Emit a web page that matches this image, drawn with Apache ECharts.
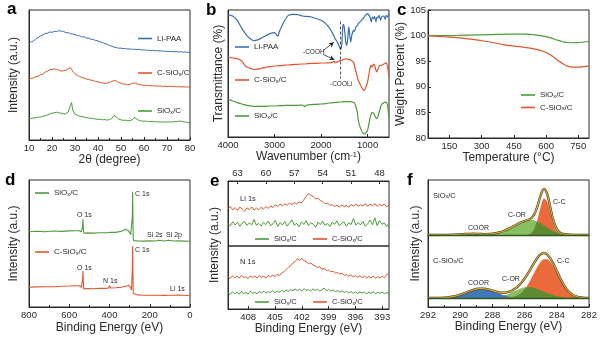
<!DOCTYPE html>
<html>
<head>
<meta charset="utf-8">
<script src="https://cdn.jsdelivr.net/npm/echarts@6/dist/echarts.min.js"></script>
<style>
  html, body { margin: 0; padding: 0; background: #fff; }
  #chart { width: 600px; height: 339px; }
</style>
</head>
<body>
<div id="chart"></div>
<script>
// ---------- (a) XRD patterns ----------
const xrdAngle = [10,11,12,13,14,15,16,17,18,19,20,21,22,23,24,25,26,27,28,28.5,29,30,31,32,33,34,35,36,37,38,39,40,41,42,43,44,45,46,47,47.5,48,49,50,51,52,53,54,55,56,56.5,57,58,59,60,61,62,63,64,65,66,67,68,69,70,71,72,73,74,75,76,77,78,79,80];
const xrdLiPAA = [96.5,98.4,99.0,101.3,102.4,104.3,105.0,106.6,106.8,108.0,107.7,108.6,108.4,109.3,108.8,108.6,107.4,107.3,106.4,106.6,105.8,105.6,104.4,104.2,103.0,103.3,102.0,101.9,100.7,100.5,99.4,99.2,98.0,97.5,96.4,95.9,94.5,93.9,92.8,92.7,92.4,91.8,91.9,91.3,91.5,90.9,91.1,90.6,90.8,90.5,90.4,90.6,90.0,90.2,89.7,89.9,89.4,89.6,89.2,89.4,88.9,89.1,88.6,88.8,88.4,88.6,88.2,88.4,88.0,88.3,87.8,88.0,87.6,87.8];
const xrdCSiOx = [61.0,61.6,62.1,63.2,63.8,65.3,65.8,67.9,68.7,70.3,70.5,71.2,70.4,69.9,68.8,69.3,69.5,71.2,72.4,73.0,69.0,66.2,64.5,63.5,62.4,61.9,60.8,60.5,59.8,59.5,58.5,58.2,57.5,57.2,56.5,56.9,57.5,58.4,59.6,59.8,58.8,57.5,56.8,55.8,55.9,55.2,55.8,56.6,57.1,56.9,56.0,55.4,55.1,54.6,54.8,54.3,54.5,54.0,54.2,53.8,54.0,53.6,53.9,53.5,53.7,53.3,53.6,53.2,53.4,53.0,53.3,52.9,53.2,52.9];
const xrdSiOx = [21.8,21.5,22.1,22.2,22.8,22.9,23.8,24.2,25.1,25.9,26.8,27.2,27.8,27.1,26.8,26.2,26.1,28.0,34.5,37.5,29.8,25.6,24.8,23.9,23.4,22.9,22.4,21.9,21.8,21.2,21.1,20.6,20.8,20.2,20.4,19.9,20.4,21.4,24.6,25.6,23.0,21.0,20.1,19.6,19.8,19.2,19.5,20.4,22.8,22.5,20.6,19.4,19.0,18.7,18.9,18.4,18.6,18.2,18.4,18.0,18.2,17.9,18.1,17.9,18.2,18.0,18.3,18.5,18.7,18.9,18.4,17.8,17.6,17.4];

// ---------- (b) FTIR spectra ----------
const irWave = [4000,3900,3800,3700,3650,3600,3500,3450,3400,3300,3200,3100,3000,2950,2920,2900,2800,2750,2700,2600,2500,2400,2350,2300,2200,2100,2000,1900,1800,1750,1720,1700,1650,1620,1590,1570,1550,1540,1530,1510,1490,1470,1450,1430,1410,1400,1380,1360,1340,1300,1280,1250,1220,1200,1150,1100,1070,1050,1000,950,920,900,870,850,820,800,780,750,720,700,650,620,600,570,540];
const irLiPAA = [122.4,121.0,116.7,108.4,105.0,101.7,97.4,96.4,96.7,98.4,101.0,103.4,104.4,101.7,101.0,105.0,115.0,119.0,121.7,122.7,122.4,121.0,120.7,120.7,120.0,118.4,116.7,113.4,107.7,103.4,100.7,98.4,95.0,91.7,88.4,87.7,95.0,105.0,111.7,112.4,105.0,95.0,91.7,96.7,108.4,110.0,100.0,95.0,101.7,106.7,105.7,110.0,111.7,113.4,115.7,118.4,120.0,121.7,123.4,120.0,115.0,120.0,118.4,120.7,115.0,120.0,119.0,121.7,116.7,120.0,121.0,117.7,121.7,120.0,123.4];
const irCSiOx = [80.0,79.0,78.4,75.7,72.4,70.0,68.4,67.7,67.7,68.4,69.7,70.4,71.0,71.0,71.4,71.4,71.7,72.0,72.0,72.4,72.7,73.0,73.0,73.4,73.7,73.7,74.0,74.0,74.4,74.7,76.0,74.4,75.0,75.4,77.0,76.4,76.7,77.0,77.4,77.7,78.0,78.0,78.4,77.7,77.4,77.7,77.4,77.0,76.4,74.4,71.0,65.0,60.0,56.7,51.7,47.7,46.7,48.4,55.0,68.4,71.7,70.0,73.0,71.7,66.7,65.0,67.4,71.0,71.7,71.7,73.0,73.7,74.4,70.0,60.0];
const irSiOx = [37.7,36.0,34.4,33.0,32.4,31.7,31.0,30.7,30.7,30.7,30.7,31.0,31.0,31.0,31.4,31.4,31.4,31.7,31.7,31.7,31.7,32.0,30.4,32.0,32.4,32.7,33.0,33.4,34.0,34.4,34.4,34.7,34.7,35.0,35.0,35.0,35.0,35.0,35.4,35.4,35.4,35.4,35.4,35.4,35.4,35.4,35.4,35.4,35.0,34.7,33.7,30.0,24.4,16.7,8.4,4.1,3.0,3.4,6.7,18.4,23.4,24.4,23.7,21.7,19.0,18.4,20.0,25.0,30.0,32.4,34.4,34.7,35.0,31.7,18.4];
const irTicks = [4000, 3000, 2000, 1000];

// ---------- (c) TGA curves ----------
const tgaTemp = [50,100,150,200,250,300,350,400,450,500,550,600,625,650,675,700,725,750,775,800];
const tgaSiOx = [100,100,100,100.05,100.1,100.15,100.2,100.25,100.3,100.3,100.15,99.8,99.5,99.15,98.85,98.65,98.6,98.65,98.75,98.85];
const tgaCSiOx = [100,99.85,99.7,99.55,99.3,99.0,98.65,98.25,97.95,97.7,97.35,96.7,96.1,95.3,94.6,94.05,93.85,93.85,93.95,94.1];
const tgaTicks = [150, 300, 450, 600, 750];

// ---------- (d) XPS survey ----------
const surveyEnergy = [800,760,720,680,640,600,570,550,545,540,537,534,532,530,528,525,510,480,450,420,405,400,395,370,340,320,305,300,295,291,288,286.5,285,283.5,282,280,260,230,200,170,155,152,149,130,105,102,99,80,58,55,52,30,0];
const surveySiOx = [75.3,75.8,75.2,76.0,75.6,76.1,76.3,76.2,76.7,75.0,74.3,80.3,87.7,78.7,73.7,73.8,74.1,73.9,74.3,74.2,74.4,74.3,74.7,74.6,75.7,77.7,76.3,74.3,72.3,71.7,71.7,90.0,115.3,87.0,68.7,66.3,66.1,65.9,66.1,66.0,66.7,67.3,66.3,66.0,66.7,67.3,66.3,66.0,66.1,65.9,66.0,65.9,65.7];
const surveyCSiOx = [19.7,20.1,20.3,20.2,20.8,21.0,21.3,21.2,21.7,19.7,18.7,27.0,36.0,25.3,18.0,18.1,18.4,18.2,18.7,18.6,19.0,21.3,19.0,19.3,19.7,20.7,21.7,21.3,19.7,17.0,16.3,37.0,61.0,33.7,13.7,12.0,12.1,11.8,11.7,11.8,11.7,11.9,11.7,11.6,11.8,11.7,11.6,11.7,12.0,13.0,12.0,11.7,11.3];

// ---------- (e) Li 1s and N 1s high-resolution spectra ----------
const li1sEnergy = [64,63.75,63.5,63.25,63,62.75,62.5,62.25,62,61.75,61.5,61.25,61,60.75,60.5,60.25,60,59.75,59.5,59.25,59,58.75,58.5,58.25,58,57.75,57.5,57.25,57,56.75,56.5,56.25,56,55.75,55.5,55.25,55,54.75,54.5,54.25,54,53.75,53.5,53.25,53,52.75,52.5,52.25,52,51.75,51.5,51.25,51,50.75,50.5,50.25,50,49.75,49.5,49.25,49,48.75,48.5,48.25,48,47.75,47.5,47.25,47];
const li1sCSiOx = [37.2,39.5,36.1,38.4,35.6,38.9,37.0,34.8,38.2,36.5,39.1,35.9,37.8,36.3,38.6,37.1,39.4,37.6,40.2,38.5,41.0,39.6,41.8,40.3,42.1,40.8,42.9,41.5,43.4,42.0,44.1,43.2,46.0,49.5,52.6,50.8,49.4,47.1,48.0,45.3,44.6,42.2,43.0,40.6,41.3,39.5,40.9,38.8,41.2,39.4,40.7,38.6,41.5,39.8,42.0,39.9,41.3,40.1,42.4,39.6,41.8,40.3,42.2,39.7,41.6,40.2,41.9,39.3,40.8];
const li1sSiOx = [22.4,20.1,24.3,21.0,23.8,19.6,22.9,24.6,20.5,23.1,21.2,26.5,20.8,22.6,19.9,23.7,21.4,24.9,20.3,22.2,25.6,19.4,23.3,21.1,24.4,20.0,23.0,26.1,20.7,22.8,19.2,24.1,21.6,25.3,20.4,23.4,21.9,18.8,23.9,21.3,24.7,20.6,22.5,19.5,23.6,21.8,25.2,20.2,22.7,24.2,19.7,23.2,21.5,27.5,20.9,23.5,21.0,24.5,19.8,22.3,26.0,21.2,28.2,20.4,25.4,21.7,23.1,19.6,22.6];
const li1sTicks = [63, 60, 57, 54, 51, 48];

const n1sEnergy = [410.25,410,409.75,409.5,409.25,409,408.75,408.5,408.25,408,407.75,407.5,407.25,407,406.75,406.5,406.25,406,405.75,405.5,405.25,405,404.75,404.5,404.25,404,403.75,403.5,403.25,403,402.75,402.5,402.25,402,401.75,401.5,401.25,401,400.75,400.5,400.25,400,399.75,399.5,399.25,399,398.75,398.5,398.25,398,397.75,397.5,397.25,397,396.75,396.5,396.25,396,395.75,395.5,395.25,395,394.75,394.5,394.25,394,393.75,393.5,393.25,393,392.75,392.5,392.25];
const n1sCSiOx = [32.4,30.6,33.1,31.2,32.9,30.8,33.5,31.6,32.2,30.4,33.0,31.5,32.8,30.9,33.4,31.8,32.6,31.0,33.6,32.1,33.9,32.5,34.6,33.4,36.0,37.2,39.5,41.8,43.2,46.1,47.4,50.3,48.8,50.6,48.1,47.6,45.3,46.2,44.0,43.1,41.6,42.4,39.8,40.5,38.6,39.1,37.2,37.9,35.8,36.6,34.9,35.7,33.6,34.5,32.8,34.1,32.3,33.5,31.7,33.2,31.4,32.8,30.9,32.6,31.2,33.0,30.5,32.4,31.0,32.9,31.3,34.5,35.0];
const n1sSiOx = [16.0,14.6,17.2,15.3,16.9,14.8,17.5,15.6,16.4,15.0,17.8,15.9,16.6,15.2,17.6,16.1,18.0,15.7,17.3,16.5,18.4,16.2,17.9,16.8,18.7,17.0,19.1,17.6,19.5,18.2,20.0,18.5,19.7,18.1,20.3,18.7,19.4,17.9,20.1,18.4,19.8,18.0,19.3,21.0,18.2,19.6,17.8,19.0,17.3,18.5,16.9,18.1,16.5,17.6,16.0,17.4,15.7,17.1,15.5,17.0,15.9,16.8,15.2,16.9,15.6,17.2,15.3,16.6,15.8,16.9,15.4,16.3,15.9];
const n1sTicks = [408, 405, 402, 399, 396, 393];

// ---------- (f) C 1s peak fitting ----------
const c1sEnergy = [292,291.8,291.6,291.4,291.2,291,290.8,290.6,290.4,290.2,290,289.8,289.6,289.4,289.2,289,288.8,288.6,288.4,288.2,288,287.8,287.6,287.4,287.2,287,286.8,286.6,286.4,286.2,286,285.8,285.6,285.4,285.2,285,284.8,284.6,284.4,284.2,284,283.8,283.6,283.4,283.2,283,282.8,282.6,282.4,282.2,282];
const c1sSiOxCOOR = [0,0,0,0.01,0.03,0.07,0.12,0.22,0.35,0.52,0.73,0.93,1.09,1.19,1.19,1.09,0.93,0.73,0.52,0.35,0.22,0.12,0.07,0.03,0.01,0,0,0,0,0,0,0,0,0,0,0,0,0,0,0,0,0,0,0,0,0,0,0,0,0,0];
const c1sSiOxCOR = [0,0,0,0,0,0,0,0,0,0,0,0,0.01,0.02,0.04,0.08,0.14,0.25,0.43,0.70,1.1,1.67,2.45,3.45,4.7,6.15,7.8,9.4,11.2,12.7,13.95,14.73,15.0,14.58,13.4,11.7,9.6,7.5,5.5,3.8,2.55,1.6,0.94,0.52,0.28,0.14,0.07,0.03,0,0,0];
const c1sSiOxCC = [0,0,0,0,0,0,0,0,0,0,0,0,0,0,0,0,0,0,0,0,0,0,0,0,0,0,0,0,0,0,0.04,0.3,1.6,5.9,15.4,28.2,36.6,33.6,21.8,10.0,3.3,0.75,0.1,0,0,0,0,0,0,0,0];
const c1sCSiOxCOOR = [0,0.01,0.05,0.1,0.2,0.36,0.63,1.0,1.6,2.4,3.35,4.5,5.8,7.0,8.1,9.0,9.44,9.44,9.0,8.1,7.0,5.8,4.5,3.35,2.4,1.6,1.0,0.63,0.36,0.2,0.1,0.05,0.01,0,0,0,0,0,0,0,0,0,0,0,0,0,0,0,0,0,0];
const c1sCSiOxCOR = [0,0,0,0,0,0,0,0,0,0,0,0,0,0,0,0,0,0,0.1,0.2,0.4,0.7,1.2,1.9,2.8,4.1,5.5,7.1,8.6,9.8,10.7,11.0,10.8,10.1,9.0,7.7,6.3,5.0,3.7,2.7,1.8,1.2,0.75,0.45,0.26,0.14,0.05,0,0,0,0];
const c1sCSiOxCC = [0,0,0,0,0,0,0,0,0,0,0,0,0,0,0,0,0,0,0,0,0,0,0,0,0.15,0.35,0.8,1.6,3.0,5.3,8.7,13.3,19.0,25.2,31.3,36.0,38.7,38.7,36.0,31.3,25.2,19.0,13.3,8.7,5.3,3.0,1.6,0.8,0.35,0.15,0.05];

// ---------- styling ----------
const FONT = '"Liberation Sans", Arial, sans-serif';
const INK = '#2a2a2a';
const BLUE = '#3a6fb8';
const ORANGE = '#e0572c';
const GREEN = '#4d9c3b';
const FILL_CC = '#ea6a3c';
const FILL_COR = '#86c062';
const FILL_OVERLAP = '#5d8a33';
const FILL_COOR = '#4278b9';
const ENVELOPE = '#d8ab2c';
const SUB = { s: { fontSize: 5.5, fontFamily: FONT, color: INK, verticalAlign: 'bottom', lineHeight: 6 } };

function pairs(xs, ys) { return xs.map((x, i) => [x, ys[i]]); }
function sumOf(a, b, c) { return a.map((v, i) => v + b[i] + c[i]); }
function minOf(a, b) { return a.map((v, i) => Math.min(v, b[i])); }
function subX(text) { return text.replace('SiOx', 'SiO{s|x}'); }
function plain(v) { return String(v); }

function grid(left, top, width, height, framed) {
  return { left, top, width, height, show: framed, borderColor: INK, borderWidth: 1,
           backgroundColor: 'transparent', containLabel: false, outerBoundsMode: 'none' };
}

function xAxis(gi, o) {
  const ax = {
    type: 'value', gridIndex: gi, min: o.min, max: o.max, inverse: !!o.inverse,
    position: o.position || 'bottom',
    axisLine: { show: true, onZero: false, lineStyle: { color: INK, width: 1 } },
    axisTick: { show: true, inside: true, length: 3, lineStyle: { color: INK } },
    minorTick: { show: !!o.minor, splitNumber: 2, length: 2, lineStyle: { color: INK } },
    axisLabel: { show: true, margin: 3, fontSize: 9.5, fontFamily: FONT, color: INK,
                 showMinLabel: true, showMaxLabel: true, formatter: plain },
    splitLine: { show: false },
    name: o.name || '', nameLocation: 'middle', nameGap: o.nameGap || 12,
    nameTextStyle: { fontSize: 12, fontFamily: FONT, color: INK,
                     rich: { sup: { fontSize: 7.5, fontFamily: FONT, color: INK, verticalAlign: 'top', lineHeight: 8 } } },
    silent: true
  };
  if (o.interval) ax.interval = o.interval;
  if (o.custom) {
    ax.axisLabel.customValues = o.custom;
    ax.axisTick.customValues = o.custom;
  }
  return ax;
}

function yAxis(gi, o) {
  return {
    type: 'value', gridIndex: gi, min: o.min, max: o.max, interval: o.interval,
    axisLine: { show: true, onZero: false, lineStyle: { color: INK, width: 1 } },
    axisTick: { show: !!o.labels, inside: true, length: 3, lineStyle: { color: INK } },
    axisLabel: { show: !!o.labels, margin: 2, fontSize: 9.5, fontFamily: FONT, color: INK, formatter: plain },
    splitLine: { show: false },
    name: o.name || '', nameLocation: 'middle', nameGap: o.nameGap || 8,
    nameTextStyle: { fontSize: 12, fontFamily: FONT, color: INK },
    silent: true
  };
}

function hiddenAxes(gi, ymax) {
  return {
    x: { type: 'value', gridIndex: gi, min: 282, max: 292, inverse: true, z: 10,
         axisLine: { show: true, onZero: false, lineStyle: { color: '#2e5a1f', width: 1.3 } },
         axisTick: { show: false }, axisLabel: { show: false }, splitLine: { show: false } },
    y: { type: 'value', gridIndex: gi, min: 0, max: ymax, show: false, splitLine: { show: false } }
  };
}

function line(name, gi, xs, ys, color, width, extra) {
  return Object.assign({
    type: 'line', name, xAxisIndex: gi, yAxisIndex: gi, data: pairs(xs, ys),
    showSymbol: false, symbol: 'none', silent: true, animation: false,
    lineStyle: { color, width }, itemStyle: { color }, z: 3
  }, extra || {});
}

function band(name, gi, ys, fill, z) {
  return {
    type: 'line', name, xAxisIndex: gi, yAxisIndex: gi, data: pairs(c1sEnergy, ys),
    showSymbol: false, symbol: 'none', smooth: 0.3, silent: true, animation: false,
    lineStyle: { width: 0 }, itemStyle: { color: fill },
    areaStyle: { color: fill, opacity: 1, origin: 'start' }, z
  };
}

function legendItem(name, left, top, size) {
  return {
    data: [name], left, top, padding: 0, itemGap: 0, icon: 'rect',
    itemWidth: 14, itemHeight: 1.6, selectedMode: false,
    formatter: subX,
    textStyle: { fontSize: size, fontFamily: FONT, color: INK,
                 rich: { s: { fontSize: size * 0.7, fontFamily: FONT, color: INK, verticalAlign: 'bottom', lineHeight: 6 } } }
  };
}

function text(str, x, y, size, extra) {
  return { type: 'text', x, y, silent: true, z: 20,
    style: Object.assign({ text: subX(str), fontSize: size, fontFamily: FONT, fill: INK,
                           align: 'left', verticalAlign: 'middle', rich: SUB }, extra || {}) };
}

function letter(ch, x, y) {
  return { type: 'text', x, y, silent: true, z: 20,
    style: { text: ch, fontSize: 17, fontWeight: 'bold', fontFamily: FONT, fill: '#000',
             align: 'left', verticalAlign: 'bottom' } };
}

const fTop = hiddenAxes(7, 55);
const fBot = hiddenAxes(8, 118);

const option = {
  animation: false,
  backgroundColor: '#fff',
  grid: [
    grid(29, 10, 161, 130, true),    // 0 a
    grid(228, 10, 161, 127, true),   // 1 b
    grid(428, 10, 161, 128, true),   // 2 c
    grid(29, 180, 161, 127, true),   // 3 d
    grid(228, 181, 161, 65, true),   // 4 e (Li 1s)
    grid(228, 246, 161, 63, true),   // 5 e (N 1s)
    grid(428, 180, 161, 127, true),  // 6 f frame
    grid(428, 180, 161, 55, false),  // 7 f SiOx/C fit
    grid(428, 180, 161, 118, false)  // 8 f C-SiOx/C fit
  ],
  xAxis: [
    xAxis(0, { min: 10, max: 80, interval: 10, minor: true, name: '2θ (degree)', nameGap: 11 }),
    xAxis(1, { min: 540, max: 4000, inverse: true, custom: irTicks, name: 'Wavenumber (cm{sup|-1})', nameGap: 14 }),
    xAxis(2, { min: 50, max: 800, custom: tgaTicks, name: 'Temperature (°C)', nameGap: 12 }),
    xAxis(3, { min: 0, max: 800, interval: 200, inverse: true, minor: true, name: 'Binding Energy (eV)', nameGap: 15 }),
    xAxis(4, { min: 47, max: 64, inverse: true, custom: li1sTicks, position: 'top' }),
    xAxis(5, { min: 392.25, max: 410.25, inverse: true, custom: n1sTicks, name: 'Binding Energy (eV)', nameGap: 12 }),
    xAxis(6, { min: 282, max: 292, interval: 2, inverse: true, minor: true, name: 'Binding Energy (eV)', nameGap: 13 }),
    fTop.x, fBot.x
  ],
  yAxis: [
    yAxis(0, { min: 0, max: 130, name: 'Intensity (a.u.)', nameGap: 9 }),
    yAxis(1, { min: 0, max: 127, name: 'Transmittance (%)', nameGap: 3 }),
    yAxis(2, { min: 80, max: 105, interval: 5, labels: true, name: 'Weight Percent (%)', nameGap: 17 }),
    yAxis(3, { min: 0, max: 127, name: 'Intensity (a.u.)', nameGap: 9 }),
    yAxis(4, { min: 0, max: 65 }),
    yAxis(5, { min: 0, max: 63 }),
    yAxis(6, { min: 0, max: 127, name: 'Intensity (a.u.)', nameGap: 6 }),
    fTop.y, fBot.y
  ],
  legend: [
    legendItem('Li-PAA', 138, 34.5, 8),
    legendItem('C-SiOx/C', 138, 69, 8),
    legendItem('SiOx/C', 138, 107, 8),
    legendItem('Li-PAA', 235, 43, 8),
    legendItem('C-SiOx/C', 235, 76, 8),
    legendItem('SiOx/C', 235, 112, 8),
    legendItem('SiOx/C', 521, 91, 8),
    legendItem('C-SiOx/C', 521, 103.5, 8),
    legendItem('SiOx/C', 35, 189, 8),
    legendItem('C-SiOx/C', 35, 248, 8),
    legendItem('SiOx/C', 255, 235, 7.5),
    legendItem('C-SiOx/C', 313, 235, 7.5),
    legendItem('SiOx/C', 255, 298, 7.5),
    legendItem('C-SiOx/C', 313, 298, 7.5)
  ],
  series: [
    // (a)
    line('Li-PAA', 0, xrdAngle, xrdLiPAA, BLUE, 1),
    line('C-SiOx/C', 0, xrdAngle, xrdCSiOx, ORANGE, 1),
    line('SiOx/C', 0, xrdAngle, xrdSiOx, GREEN, 1),
    // (b)
    line('Li-PAA', 1, irWave, irLiPAA, BLUE, 1.2, {
      smooth: 0.12,
      markLine: {
        silent: true, animation: false, label: { show: false }, symbolSize: [5, 6],
        data: [
          [{ coord: [1590, 115.5], symbol: 'none', lineStyle: { type: [3, 2], color: INK, width: 0.8 } },
           { coord: [1590, 58.5], symbol: 'none' }],
          [{ coord: [1958, 86.3], symbol: 'none', lineStyle: { type: 'solid', color: INK, width: 0.8 } },
           { coord: [1725, 94.8], symbol: 'arrow', symbolSize: [4, 5] }],
          [{ coord: [1958, 82.6], symbol: 'none', lineStyle: { type: 'solid', color: INK, width: 0.8 } },
           { coord: [1712, 77.2], symbol: 'arrow', symbolSize: [4, 5] }]
        ]
      }
    }),
    line('C-SiOx/C', 1, irWave, irCSiOx, ORANGE, 1.2, { smooth: 0.15 }),
    line('SiOx/C', 1, irWave, irSiOx, GREEN, 1.2, { smooth: 0.15 }),
    // (c)
    line('SiOx/C', 2, tgaTemp, tgaSiOx, GREEN, 1.2, { smooth: true }),
    line('C-SiOx/C', 2, tgaTemp, tgaCSiOx, ORANGE, 1.2, { smooth: true }),
    // (d)
    line('SiOx/C', 3, surveyEnergy, surveySiOx, GREEN, 1.1),
    line('C-SiOx/C', 3, surveyEnergy, surveyCSiOx, ORANGE, 1.1),
    // (e)
    line('C-SiOx/C', 4, li1sEnergy, li1sCSiOx, ORANGE, 1),
    line('SiOx/C', 4, li1sEnergy, li1sSiOx, GREEN, 1),
    line('C-SiOx/C', 5, n1sEnergy, n1sCSiOx, ORANGE, 1),
    line('SiOx/C', 5, n1sEnergy, n1sSiOx, GREEN, 1),
    // (f) SiOx/C fit
    band('C-OR', 7, c1sSiOxCOR, FILL_COR, 2),
    band('COOR', 7, c1sSiOxCOOR, FILL_COOR, 3),
    band('C-C', 7, c1sSiOxCC, FILL_CC, 4),
    band('C-OR under C-C', 7, minOf(c1sSiOxCOR, c1sSiOxCC), FILL_OVERLAP, 5),
    line('raw', 7, c1sEnergy, sumOf(c1sSiOxCC, c1sSiOxCOR, c1sSiOxCOOR), '#333', 2.3, { smooth: 0.3, z: 6 }),
    line('envelope', 7, c1sEnergy, sumOf(c1sSiOxCC, c1sSiOxCOR, c1sSiOxCOOR), ENVELOPE, 1.3, { smooth: 0.3, z: 7 }),
    // (f) C-SiOx/C fit
    band('C-OR', 8, c1sCSiOxCOR, FILL_COR, 2),
    band('COOR', 8, c1sCSiOxCOOR, FILL_COOR, 3),
    band('C-C', 8, c1sCSiOxCC, FILL_CC, 4),
    band('C-OR under C-C', 8, minOf(c1sCSiOxCOR, c1sCSiOxCC), FILL_OVERLAP, 5),
    line('raw', 8, c1sEnergy, sumOf(c1sCSiOxCC, c1sCSiOxCOR, c1sCSiOxCOOR), '#333', 2.3, { smooth: 0.3, z: 6 }),
    line('envelope', 8, c1sEnergy, sumOf(c1sCSiOxCC, c1sCSiOxCOR, c1sCSiOxCOOR), ENVELOPE, 1.3, { smooth: 0.3, z: 7 })
  ],
  graphic: [
    letter('a', 7, 17.5),
    letter('b', 206, 19),
    letter('c', 397, 18.5),
    letter('d', 5, 189),
    letter('e', 210, 190),
    letter('f', 407, 188.5),
    // (b) annotations
    text('-COOH', 303, 52.5, 6.5),
    text('-COOLi', 330, 84.5, 6.5),
    // (d) peak assignments
    text('O 1s', 77, 215, 7),
    text('C 1s', 135, 194.5, 7),
    text('Si 2s', 147, 235, 7),
    text('Si 2p', 166, 235, 7),
    text('O 1s', 77, 268, 7),
    text('N 1s', 103, 281, 7),
    text('C 1s', 135, 250, 7),
    text('Li 1s', 170, 289.5, 7),
    // (e)
    text('Li 1s', 240, 198.5, 7.5),
    text('N 1s', 240, 262, 7.5),
    { type: 'text', x: 215, y: 245, rotation: Math.PI / 2, silent: true, z: 20,
      style: { text: 'Intensity (a.u.)', fontSize: 12, fontFamily: FONT, fill: INK, align: 'center', verticalAlign: 'middle' } },
    // (f) component labels
    text('SiOx/C', 433, 195.5, 7.5),
    text('C-C', 553, 202, 7),
    text('C-OR', 508, 215.5, 7),
    text('COOR', 468, 228.5, 7),
    text('C-SiOx/C', 433, 260.5, 7.5),
    text('C-C', 557, 261.5, 7),
    text('C-OR', 502, 279.5, 7),
    text('COOR', 468, 283.5, 7)
  ]
};

const chart = echarts.init(document.getElementById('chart'), null, { renderer: 'canvas' });
chart.setOption(option);
</script>
</body>
</html>
